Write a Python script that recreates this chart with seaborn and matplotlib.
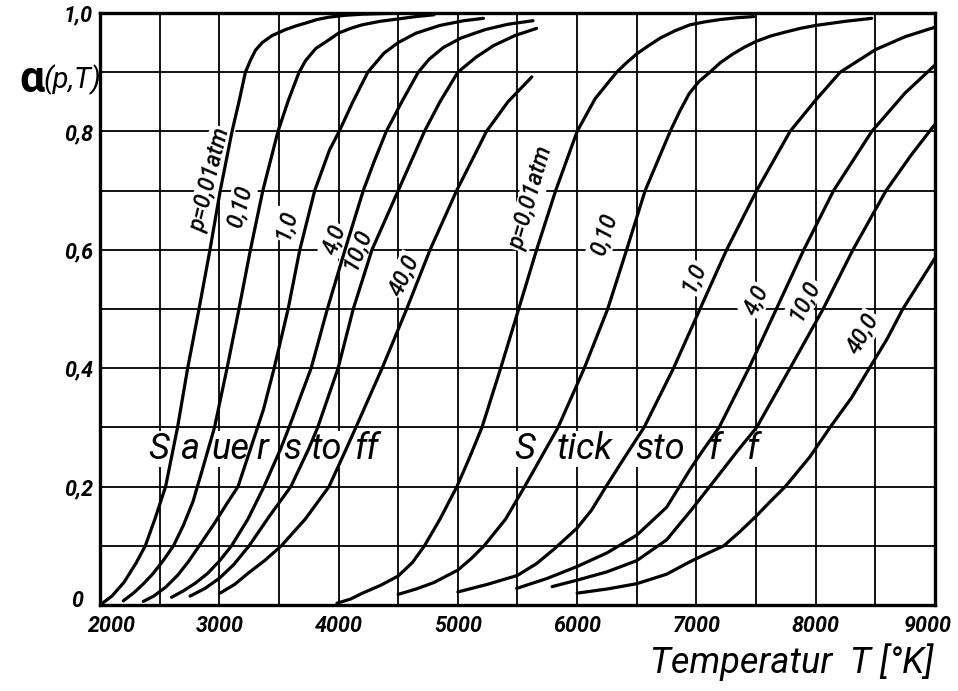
import numpy as np
import pandas as pd
import matplotlib
matplotlib.use("Agg")
import matplotlib.pyplot as plt
from matplotlib.transforms import ScaledTranslation
import seaborn as sns

# ---------------- data ----------------
# Sauerstoff (oxygen), pressures in atm
O2_001_T = [2000, 2100, 2200, 2300, 2380, 2460, 2550, 2600, 2650, 2735, 2830, 2922, 3008, 3107, 3165, 3219, 3240, 3261, 3303, 3360, 3444, 3556, 3640, 3725, 3820, 3921, 4050, 4200, 4530]
O2_001_A = [0.0, 0.015, 0.038, 0.07, 0.1, 0.145, 0.2, 0.25, 0.3, 0.4, 0.5, 0.6, 0.7, 0.8, 0.85, 0.9, 0.91, 0.92, 0.937, 0.95, 0.962, 0.972, 0.978, 0.983, 0.989, 0.993, 0.996, 0.998, 1.0]
O2_010_T = [2195, 2280, 2360, 2440, 2530, 2616, 2700, 2780, 2860, 2960, 3065, 3165, 3261, 3365, 3492, 3580, 3669, 3725, 3809, 3921, 4000, 4100, 4197, 4350, 4500, 4650, 4800]
O2_010_A = [0.007, 0.02, 0.035, 0.052, 0.075, 0.1, 0.135, 0.175, 0.23, 0.3, 0.4, 0.5, 0.6, 0.7, 0.8, 0.853, 0.9, 0.92, 0.94, 0.955, 0.966, 0.974, 0.98, 0.986, 0.99, 0.994, 0.997]
O2_1_T = [2363, 2450, 2550, 2650, 2740, 2832, 2950, 3060, 3157, 3262, 3370, 3460, 3577, 3675, 3800, 3925, 4005, 4120, 4245, 4380, 4500, 4650, 4850, 5050, 5214]
O2_1_A = [0.006, 0.015, 0.03, 0.05, 0.073, 0.1, 0.135, 0.17, 0.2, 0.264, 0.33, 0.4, 0.5, 0.6, 0.7, 0.769, 0.8, 0.85, 0.9, 0.932, 0.95, 0.966, 0.979, 0.987, 0.991]
O2_4_T = [2600, 2700, 2800, 2900, 3000, 3103, 3240, 3375, 3515, 3585, 3770, 3906, 4054, 4207, 4300, 4400, 4530, 4668, 4760, 4880, 5030, 5230, 5420, 5630]
O2_4_A = [0.013, 0.024, 0.037, 0.053, 0.074, 0.1, 0.145, 0.2, 0.264, 0.3, 0.4, 0.5, 0.6, 0.7, 0.75, 0.8, 0.85, 0.9, 0.922, 0.942, 0.958, 0.972, 0.981, 0.987]
O2_10_T = [2755, 2880, 3000, 3120, 3250, 3420, 3600, 3750, 3825, 3996, 4123, 4280, 4500, 4720, 4850, 5000, 5150, 5300, 5480, 5660]
O2_10_A = [0.015, 0.028, 0.045, 0.068, 0.1, 0.15, 0.2, 0.264, 0.3, 0.4, 0.5, 0.6, 0.7, 0.8, 0.85, 0.9, 0.925, 0.945, 0.962, 0.974]
O2_40_T = [3006, 3130, 3250, 3380, 3520, 3720, 3920, 4065, 4145, 4365, 4571, 4767, 4990, 5240, 5420, 5620]
O2_40_A = [0.02, 0.035, 0.055, 0.075, 0.1, 0.145, 0.2, 0.264, 0.3, 0.4, 0.5, 0.6, 0.7, 0.8, 0.85, 0.892]

# Stickstoff (nitrogen)
N2_001_T = [3986, 4100, 4200, 4350, 4500, 4620, 4720, 4850, 4992, 5100, 5202, 5359, 5510, 5660, 5820, 6000, 6150, 6331, 6420, 6500, 6600, 6700, 6820, 6945, 7070, 7200, 7340, 7480]
N2_001_A = [0.003, 0.01, 0.02, 0.033, 0.049, 0.072, 0.1, 0.145, 0.2, 0.25, 0.3, 0.4, 0.5, 0.6, 0.7, 0.8, 0.855, 0.9, 0.917, 0.931, 0.945, 0.958, 0.97, 0.98, 0.985, 0.989, 0.992, 0.994]
N2_010_T = [4500, 4650, 4800, 5000, 5110, 5220, 5400, 5560, 5700, 5840, 6060, 6256, 6415, 6570, 6780, 6860, 6940, 7020, 7113, 7200, 7300, 7400, 7500, 7620, 7750, 7870, 8000, 8250, 8470]
N2_010_A = [0.018, 0.027, 0.038, 0.059, 0.078, 0.1, 0.145, 0.2, 0.25, 0.3, 0.4, 0.5, 0.6, 0.7, 0.8, 0.834, 0.864, 0.884, 0.9, 0.916, 0.93, 0.942, 0.952, 0.961, 0.968, 0.974, 0.979, 0.986, 0.991]
N2_1_T = [5000, 5250, 5500, 5660, 5810, 6000, 6120, 6242, 6400, 6561, 6808, 7030, 7253, 7505, 7785, 8000, 8205, 8500, 8750, 9000]
N2_1_A = [0.022, 0.035, 0.05, 0.07, 0.095, 0.13, 0.16, 0.2, 0.25, 0.3, 0.4, 0.5, 0.6, 0.7, 0.8, 0.853, 0.9, 0.938, 0.96, 0.976]
N2_4_T = [5493, 5750, 6000, 6250, 6500, 6750, 6950, 7050, 7190, 7440, 7670, 7900, 8150, 8470, 8750, 9000]
N2_4_A = [0.028, 0.045, 0.065, 0.088, 0.118, 0.165, 0.23, 0.26, 0.3, 0.4, 0.5, 0.6, 0.7, 0.8, 0.865, 0.912]
N2_10_T = [5790, 6000, 6250, 6500, 6750, 6955, 7150, 7343, 7505, 7785, 8062, 8312, 8590, 8800, 9000]
N2_10_A = [0.031, 0.042, 0.056, 0.075, 0.11, 0.16, 0.21, 0.26, 0.3, 0.4, 0.5, 0.6, 0.7, 0.76, 0.812]
N2_40_T = [6000, 6250, 6500, 6750, 6945, 7100, 7230, 7370, 7500, 7620, 7745, 7950, 8120, 8300, 8450, 8600, 8730, 9000]
N2_40_A = [0.02, 0.027, 0.036, 0.052, 0.073, 0.088, 0.1, 0.125, 0.15, 0.175, 0.2, 0.25, 0.3, 0.35, 0.4, 0.45, 0.5, 0.586]

# curve labels: text, T, alpha, rotation (deg)
O2_LABELS = [("p=0,01atm", 2922, 0.718, 76), ("0,10", 3174, 0.672, 75), ("1,0", 3559, 0.642, 74),
             ("4,0", 3970, 0.617, 70), ("10,0", 4154, 0.600, 68), ("40,0", 4548, 0.557, 64)]
N2_LABELS = [("p=0,01atm", 5613, 0.688, 74), ("0,10", 6225, 0.625, 72), ("1,0", 6971, 0.554, 66),
             ("4,0", 7499, 0.515, 64), ("10,0", 7901, 0.515, 63), ("40,0", 8396, 0.459, 60)]
# name pieces placed between the curves (T positions) on one text line
O2_NAME = [("S", 2495), ("a", 2754), ("ue", 3090), ("r", 3358), ("s", 3609), ("to", 3903), ("ff", 4238)]
N2_NAME = [("S", 5562), ("tick", 6065), ("sto", 6694), ("f", 7155), ("f", 7474)]
NAME_ALPHA = 0.264

X_TICKS = [2000, 3000, 4000, 5000, 6000, 7000, 8000, 9000]
X_TICKLABELS = ["2000", "3000", "4000", "5000", "6000", "7000", "8000", "9000"]
Y_TICKS = [0.0, 0.2, 0.4, 0.6, 0.8, 1.0]
Y_TICKLABELS = ["0", "0,2", "0,4", "0,6", "0,8", "1,0"]

# ---------------- build table ----------------
curves = [
    ("O2 0.01", O2_001_T, O2_001_A), ("O2 0.10", O2_010_T, O2_010_A), ("O2 1.0", O2_1_T, O2_1_A),
    ("O2 4.0", O2_4_T, O2_4_A), ("O2 10.0", O2_10_T, O2_10_A), ("O2 40.0", O2_40_T, O2_40_A),
    ("N2 0.01", N2_001_T, N2_001_A), ("N2 0.10", N2_010_T, N2_010_A), ("N2 1.0", N2_1_T, N2_1_A),
    ("N2 4.0", N2_4_T, N2_4_A), ("N2 10.0", N2_10_T, N2_10_A), ("N2 40.0", N2_40_T, N2_40_A),
]
rows = []
for name, ts, als in curves:
    for t, a in zip(ts, als):
        rows.append({"curve": name, "T": t, "alpha": a})
df = pd.DataFrame(rows)

# ---------------- style ----------------
sns.set_theme(style="white")
FAM = ['Roboto', 'DejaVu Sans']
plt.rcParams['font.family'] = FAM
for k in ['text.color', 'axes.labelcolor', 'xtick.color', 'ytick.color', 'axes.edgecolor']:
    plt.rcParams[k] = 'black'

fig = plt.figure(figsize=(9.58, 6.91), dpi=100)
ax = fig.add_axes([0.10438, 0.12446, 0.87161, 0.85673])

sns.lineplot(data=df, x="T", y="alpha", units="curve", estimator=None, sort=False,
             color="black", linewidth=2.3, ax=ax, legend=False, zorder=4)

ax.set_xlim(2000, 9000)
ax.set_ylim(0, 1.0)
ax.set_xticks(X_TICKS)
ax.set_xticklabels(X_TICKLABELS)
ax.set_xticks(np.arange(2500, 9000, 1000), minor=True)
ax.set_yticks(Y_TICKS)
ax.set_yticklabels(Y_TICKLABELS)
ax.set_yticks(np.arange(0.1, 1.0, 0.2), minor=True)
ax.grid(which="both", color="black", linewidth=1.3)
ax.set_axisbelow(True)
ax.tick_params(which="both", length=0)
ax.tick_params(axis="x", pad=7)
ax.tick_params(axis="y", pad=5)
for lab in ax.get_xticklabels() + ax.get_yticklabels():
    lab.set_fontstyle("italic")
    lab.set_fontweight("bold")
    lab.set_fontsize(15.5)
xl = ax.get_xticklabels()
xl[0].set_transform(xl[0].get_transform() + ScaledTranslation(12 / 100, 0, fig.dpi_scale_trans))
xl[-1].set_transform(xl[-1].get_transform() + ScaledTranslation(-7 / 100, 0, fig.dpi_scale_trans))
yl = ax.get_yticklabels()
yl[0].set_transform(yl[0].get_transform() + ScaledTranslation(-10 / 100, 6 / 100, fig.dpi_scale_trans))
ax.set_xlabel("")
ax.set_ylabel("")
for sp in ax.spines.values():
    sp.set_linewidth(2.4)
    sp.set_color("black")

box = dict(facecolor="white", edgecolor="none", pad=1.0)
for txt, t, a, rot in O2_LABELS + N2_LABELS:
    ax.text(t, a, txt, rotation=rot, rotation_mode="anchor", ha="center", va="center",
            fontsize=16.5, fontstyle="italic", fontweight="medium", bbox=box, zorder=3)

for txt, t in O2_NAME + N2_NAME:
    ax.text(t, NAME_ALPHA, txt, ha="center", va="center", fontsize=26,
            fontstyle="italic", bbox=dict(facecolor="white", edgecolor="none", pad=0.0), zorder=3)

fig.text(0.0335, 0.884, "α", fontsize=32, fontweight="bold", ha="center", va="center")
fig.text(0.0455, 0.884, "(p,T)", fontsize=21, fontstyle="italic", ha="left", va="center")
fig.text(0.826, 0.042, "Temperatur  T [°K]", fontsize=26, fontstyle="italic", ha="center", va="center")

fig.savefig("out.png", dpi=100)
